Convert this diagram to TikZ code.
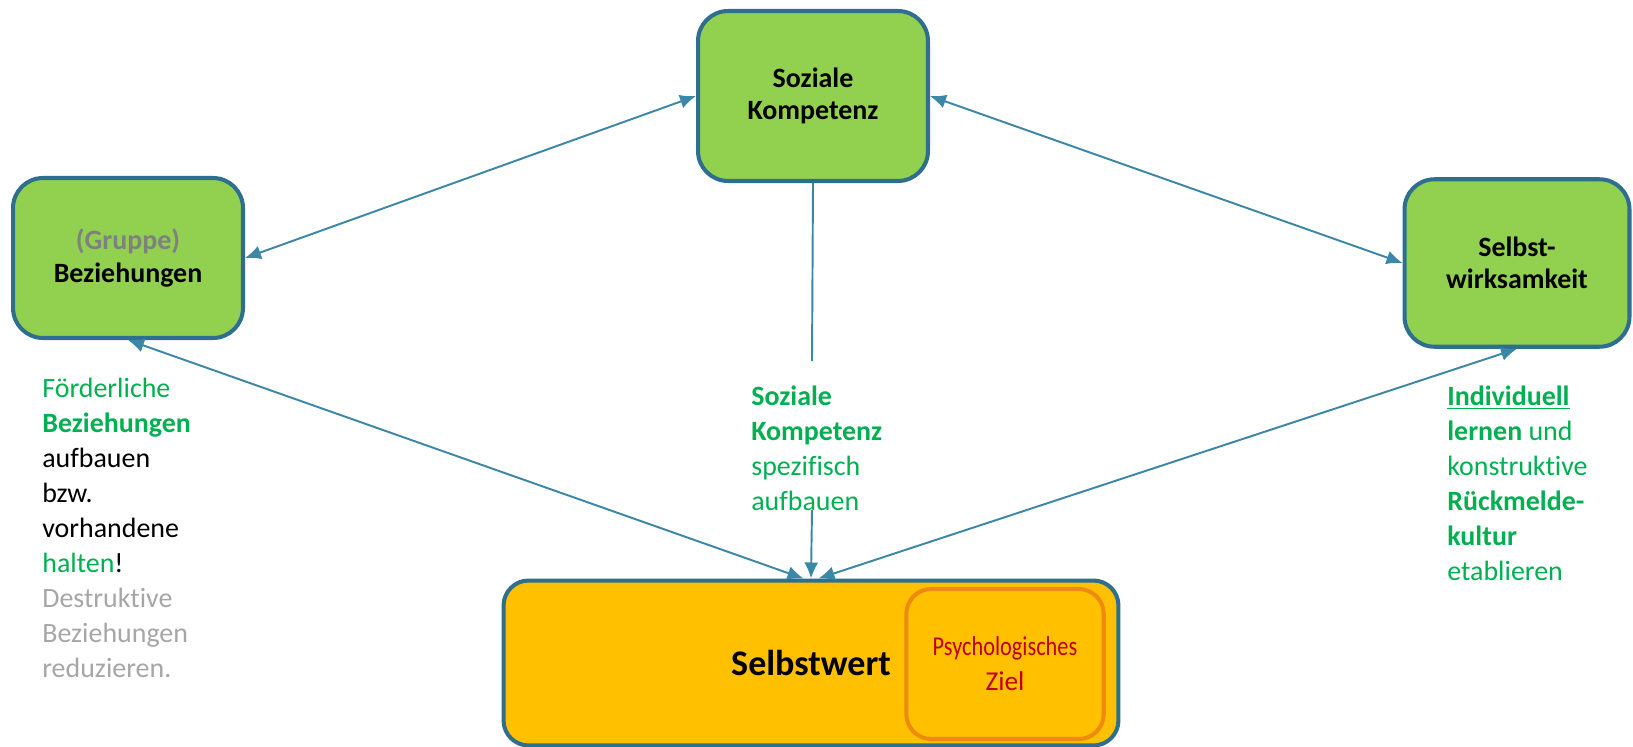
\documentclass[tikz,border=0pt]{standalone}
\usepackage{fontspec}
\setmainfont{Carlito}[Ligatures={NoCommon,NoContextual}]
\usetikzlibrary{arrows.meta}

\definecolor{boxgreen}{HTML}{92D050}
\definecolor{boxedge}{HTML}{2E6E8E}
\definecolor{arrowblue}{HTML}{3A87A8}
\definecolor{goldfill}{HTML}{FFC000}
\definecolor{orangeedge}{HTML}{EE8A10}
\definecolor{txtgreen}{HTML}{00B050}
\definecolor{txtred}{HTML}{C00000}
\definecolor{txtgray}{HTML}{A6A6A6}
\definecolor{grpgray}{HTML}{808080}

\tikzset{
  kbox/.style={draw=boxedge,line width=2.3pt,fill=boxgreen,rounded corners=0.6cm,align=center,font=\bfseries\fontsize{15.9}{18.5}\selectfont},
  note/.style={align=left,inner sep=0pt,anchor=north west,font=\fontsize{15.9}{19.9}\selectfont},
  link/.style={draw=arrowblue,line width=1.1pt},
}

\begin{document}
\begin{tikzpicture}[x=0.02cm,y=-0.02cm,>={Latex[length=0.32cm,width=0.28cm]}]
        \useasboundingbox (0,0) rectangle (1633,747);
        \node[kbox,minimum width=4.6cm,minimum height=3.4cm](soz) at (813,96){Soziale\\Kompetenz};
        \node[kbox,minimum width=4.6cm,minimum height=3.2cm](bez) at (128,258){\textcolor{grpgray}{(Gruppe)}\\Beziehungen};
        \node[kbox,minimum width=4.5cm,minimum height=3.35cm](wirk) at (1517,263){Selbst-\\wirksamkeit};
        \node[draw=boxedge,line width=2.3pt,fill=goldfill,rounded corners=0.5cm,minimum width=12.3cm,minimum height=3.3cm,font=\bfseries\fontsize{20.5}{24}\selectfont](swert) at (811,663){Selbstwert};
        \node[draw=orangeedge,line width=2.3pt,rounded corners=0.5cm,minimum width=3.95cm,minimum height=3.0cm,align=center,text=txtred,font=\fontsize{15.5}{20}\selectfont](ziel) at (1005,664){\scalebox{0.82}[1]{Psychologisches}\\Ziel};
        % Texte unter den Kaesten
        \node[note](tbez) at (42,378){\textcolor{txtgreen}{Förderliche}\\\textcolor{txtgreen}{\textbf{Beziehungen}}\\aufbauen\\bzw.\\vorhandene\\\textcolor{txtgreen}{halten}!\\\textcolor{txtgray}{Destruktive}\\\textcolor{txtgray}{Beziehungen}\\\textcolor{txtgray}{reduzieren.}};
        \node[note,text=txtgreen](tsoz) at (751,386){\textbf{Soziale}\\\textbf{Kompetenz}\\spezifisch\\aufbauen};
        \node[note,text=txtgreen](twirk) at (1447,386){\textbf{\underline{Individuell}}\\\textbf{lernen} und\\konstruktive\\\textbf{Rückmelde-}\\\textbf{kultur}\\etablieren};
        \coordinate (brka) at (812,361);
        \coordinate (brkb) at (812,510);
        % Pfeile
        \draw[link,<->](bez.east)--(soz.west);
        \draw[link,<->](soz.east)--(wirk.west);
        \draw[link,<->](bez.south)--([xshift=-0.15cm]swert.north);
        \draw[link,<->](wirk.south)--([xshift=0.15cm]swert.north);
        \draw[link](soz.south)--(brka);
        \draw[link,->](brkb)--(swert.north);
    \end{tikzpicture}
\end{document}
